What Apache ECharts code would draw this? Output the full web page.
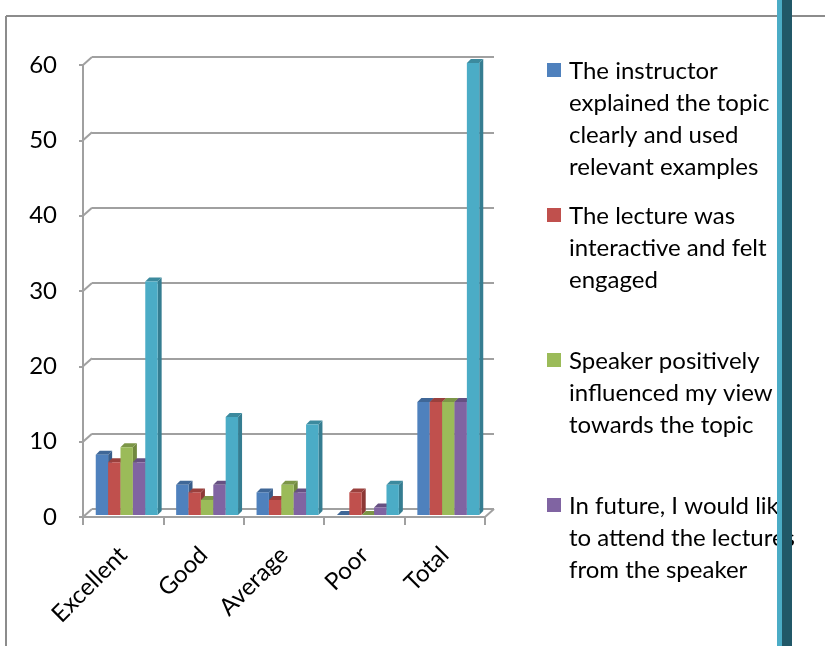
<!DOCTYPE html>
<html>
<head>
<meta charset="utf-8">
<title>Lecture feedback</title>
<script src="https://cdn.jsdelivr.net/npm/echarts@6/dist/echarts.min.js"></script>
<style>
  html, body { margin: 0; padding: 0; background: #ffffff; }
  #chart { width: 825px; height: 646px; }
</style>
</head>
<body>
<div id="chart"></div>
<script>
// Rating categories along the horizontal axis
var categories = ['Excellent', 'Good', 'Average', 'Poor', 'Total'];

// Number of responses per rating, one array per feedback statement
var instructorClear    = [8, 4, 3, 0, 15];
var lectureInteractive = [7, 3, 2, 3, 15];
var speakerInfluence   = [9, 2, 4, 0, 15];
var attendAgain        = [7, 4, 3, 1, 15];
var totalResponses     = [31, 13, 12, 4, 60];

var seriesNames = [
  'The instructor\nexplained the topic\nclearly and used\nrelevant examples',
  'The lecture was\ninteractive and felt\nengaged',
  'Speaker positively\ninfluenced my view\ntowards the topic',
  'In future, I would like\nto attend the lectures\nfrom the speaker',
  'Total'
];
var seriesValues = [instructorClear, lectureInteractive, speakerInfluence, attendAgain, totalResponses];

// Value axis ticks
var yTicks = [0, 10, 20, 30, 40, 50, 60];

// Face colours: front, side, top
var palette = [
  ['#4F81BD', '#385D8A', '#3F6797'],
  ['#C0504D', '#8C3836', '#9A403D'],
  ['#9BBB59', '#71893F', '#7C9647'],
  ['#8064A2', '#5C4776', '#665082'],
  ['#4BACC6', '#357D91', '#3C8A9E']
];

var FONT = 'Lato, "Open Sans", sans-serif';
var GRAY = '#a0a0a0';
var WALL_DX = 9, WALL_DY = -8;     // depth of the back wall
var BAR_DX = 3.5, BAR_DY = -2;     // bars sit mid-depth
var BAR_DEPTH = 4;

function barRenderer(k) {
  return function (params, api) {
    var idx = api.value(0);
    var v = api.value(1);
    var band = api.size([1, 0])[0];
    var groupW = band * 0.77;
    var barW = groupW / seriesValues.length;
    var center = api.coord([idx, 0]);
    var x0 = center[0] - groupW / 2 + k * barW + BAR_DX;
    var x1 = x0 + barW;
    var yb = center[1] + BAR_DY;
    var yt = api.coord([idx, v])[1] + BAR_DY;
    var d = BAR_DEPTH;
    var c = palette[k];
    return {
      type: 'group',
      children: [
        { type: 'polygon', shape: { points: [[x1, yt], [x1 + d, yt - d], [x1 + d, yb - d], [x1, yb]] },
          style: { fill: c[1] } },
        { type: 'polygon', shape: { points: [[x0, yt], [x0 + d, yt - d], [x1 + d, yt - d], [x1, yt]] },
          style: { fill: c[2] } },
        { type: 'rect', shape: { x: x0, y: yt, width: barW, height: yb - yt },
          style: { fill: c[0] } }
      ]
    };
  };
}

// Diagonal links from the front value axis to the back wall, plus the floor's right edge
function frameRenderer(params, api) {
  var v = api.value(1);
  var cs = params.coordSys;
  var y = api.coord([0, v])[1];
  var lines = [{
    type: 'line',
    shape: { x1: cs.x, y1: y, x2: cs.x + WALL_DX, y2: y + WALL_DY },
    style: { stroke: GRAY, lineWidth: 2 }
  }];
  if (v === 0) {
    lines.push({
      type: 'line',
      shape: { x1: cs.x + cs.width, y1: y, x2: cs.x + cs.width + WALL_DX, y2: y + WALL_DY },
      style: { stroke: GRAY, lineWidth: 2 }
    });
  }
  return { type: 'group', children: lines };
}

var series = [{
  type: 'custom',
  xAxisIndex: 0, yAxisIndex: 0,
  renderItem: frameRenderer,
  data: yTicks.map(function (t) { return [0, t]; }),
  silent: true, z: 1
}];
seriesValues.forEach(function (vals, k) {
  series.push({
    type: 'custom',
    name: seriesNames[k],
    xAxisIndex: 0, yAxisIndex: 0,
    renderItem: barRenderer(k),
    data: vals.map(function (v, i) { return [i, v]; }),
    z: 5
  });
});

// Legend entries (first four statements)
var legendGraphics = [];
for (var k = 0; k < 4; k++) {
  var entryY = 63 + k * 145;
  legendGraphics.push({
    type: 'rect', shape: { x: 547, y: entryY, width: 14, height: 14 },
    style: { fill: palette[k][0] }, z: 10
  });
  legendGraphics.push({
    type: 'text', x: 569, y: entryY - 8,
    style: { text: seriesNames[k], font: '24px ' + FONT, fill: '#000', lineHeight: 32 }, z: 10
  });
}

var chart = echarts.init(document.getElementById('chart'), null, { renderer: 'canvas' });
chart.setOption({
  backgroundColor: '#ffffff',
  animation: false,
  grid: [
    { left: 83, top: 65, width: 402, height: 452 },
    { left: 92, top: 57, width: 402, height: 452 }
  ],
  xAxis: [{
    type: 'category', gridIndex: 0, data: categories,
    axisLine: { lineStyle: { color: GRAY, width: 2 } },
    axisTick: { show: true, length: 8, lineStyle: { color: GRAY, width: 2 } },
    axisLabel: { rotate: 45, margin: 34, color: '#000', fontSize: 24, fontFamily: FONT }
  }, {
    type: 'category', gridIndex: 1, data: categories,
    axisLine: { show: false }, axisTick: { show: false }, axisLabel: { show: false }
  }],
  yAxis: [{
    type: 'value', gridIndex: 0, min: 0, max: 60, interval: 10,
    axisLine: { show: true, lineStyle: { color: GRAY, width: 2 } },
    axisTick: { show: true, length: 4, lineStyle: { color: GRAY, width: 2 } },
    axisLabel: { margin: 26, color: '#000', fontSize: 24, fontFamily: FONT },
    splitLine: { show: false }
  }, {
    type: 'value', gridIndex: 1, min: 0, max: 60, interval: 10,
    axisLine: { show: false }, axisTick: { show: false }, axisLabel: { show: false },
    splitLine: { show: true, lineStyle: { color: GRAY, width: 2 } }
  }],
  series: series,
  graphic: legendGraphics.concat([
    // outer frame
    { type: 'line', shape: { x1: 6, y1: 16, x2: 825, y2: 16 }, style: { stroke: '#8c8c8c', lineWidth: 2 }, z: 1 },
    { type: 'line', shape: { x1: 6, y1: 16, x2: 6, y2: 646 }, style: { stroke: '#8c8c8c', lineWidth: 2 }, z: 1 },
    // vertical band along the right side
    { type: 'rect', shape: { x: 777, y: 0, width: 5, height: 646 }, style: { fill: '#4BACC6' }, z: 20 },
    { type: 'rect', shape: { x: 782, y: 0, width: 10, height: 646 }, style: { fill: '#215868' }, z: 20 }
  ])
});
</script>
</body>
</html>
